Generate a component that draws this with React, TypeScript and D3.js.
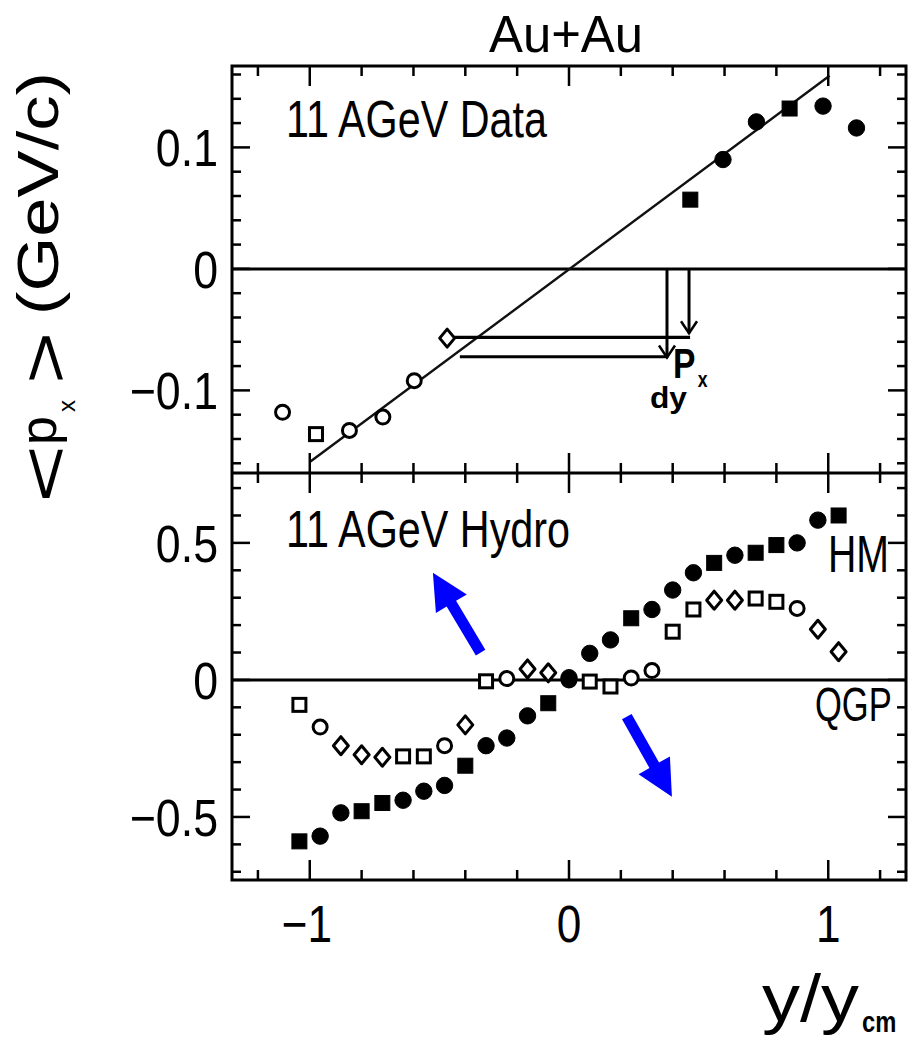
import React from 'react';
import * as d3 from 'd3';

// ---------------- data ----------------
// x-axis ticks (y / y_cm)
const X_TICKS = [-1.2, -1, -0.8, -0.6, -0.4, -0.2, 0, 0.2, 0.4, 0.6, 0.8, 1, 1.2];
const X_MAJOR = [-1, 0, 1];
const X_LABELS = ['\u22121', '0', '1'];

// top panel (11 AGeV Data) y ticks
const TOP_Y_TICKS = [-0.16, -0.14, -0.12, -0.1, -0.08, -0.06, -0.04, -0.02, 0, 0.02, 0.04, 0.06, 0.08, 0.1, 0.12, 0.14, 0.16];
const TOP_Y_MAJOR = [-0.1, 0, 0.1];
const TOP_Y_LABELS = ['\u22120.1', '0', '0.1'];

// bottom panel (11 AGeV Hydro) y ticks
const BOT_Y_TICKS = [-0.7, -0.6, -0.5, -0.4, -0.3, -0.2, -0.1, 0, 0.1, 0.2, 0.3, 0.4, 0.5, 0.6, 0.7];
const BOT_Y_MAJOR = [-0.5, 0, 0.5];
const BOT_Y_LABELS = ['\u22120.5', '0', '0.5'];

// top panel: measured points (filled, forward) and reflected points (open)
const dataFilledX = [0.468, 0.594, 0.723, 0.851, 0.98, 1.109];
const dataFilledY = [0.057, 0.090, 0.121, 0.132, 0.134, 0.116];
const dataFilledShape = ['square', 'circle', 'circle', 'square', 'circle', 'circle'];
const dataOpenX = [-1.105, -0.976, -0.847, -0.718, -0.597, -0.47];
const dataOpenY = [-0.118, -0.136, -0.133, -0.122, -0.092, -0.057];
const dataOpenShape = ['circle', 'square', 'circle', 'circle', 'circle', 'diamond'];

// linear fit line
const fitX = [-1.0, 1.005];
const fitY = [-0.159, 0.159];

// schematic of the slope dPx/dy (top panel, data units)
const slopeVertX = [0.378, 0.463];
const slopeVertBottom = [-0.0729, -0.053];
const slopeHorizY = [-0.0564, -0.0723];
const slopeHorizX0 = [-0.463, -0.421];
const slopeHorizX1 = [0.467, 0.382];

// bottom panel: hydro calculations
const hydroX = [-1.04, -0.96, -0.88, -0.80, -0.72, -0.64, -0.56, -0.48, -0.40, -0.32, -0.24, -0.16, -0.08, 0.0,
  0.08, 0.16, 0.24, 0.32, 0.40, 0.48, 0.56, 0.64, 0.72, 0.80, 0.88, 0.96, 1.04];
const hmY = [-0.589, -0.570, -0.485, -0.479, -0.449, -0.439, -0.406, -0.385, -0.313, -0.240, -0.212, -0.131, -0.085, 0.008,
  0.097, 0.146, 0.225, 0.257, 0.328, 0.391, 0.427, 0.455, 0.464, 0.492, 0.500, 0.583, 0.600];
const hmShape = ['square', 'circle', 'circle', 'square', 'square', 'circle', 'circle', 'circle', 'square', 'circle', 'circle', 'circle', 'square', 'circle',
  'circle', 'circle', 'square', 'circle', 'circle', 'circle', 'square', 'circle', 'square', 'square', 'circle', 'circle', 'square'];
const qgpY = [-0.091, -0.172, -0.240, -0.273, -0.282, -0.279, -0.279, -0.240, -0.164, -0.005, 0.005, 0.040, 0.026, 0.0,
  -0.006, -0.024, 0.007, 0.034, 0.176, 0.257, 0.291, 0.291, 0.297, 0.285, 0.261, 0.185, 0.103];
const qgpShape = ['square', 'circle', 'diamond', 'diamond', 'diamond', 'square', 'square', 'circle', 'diamond', 'square', 'circle', 'diamond', 'diamond', 'circle',
  'square', 'square', 'circle', 'circle', 'square', 'square', 'diamond', 'diamond', 'square', 'square', 'circle', 'diamond', 'diamond'];

// blue arrows in the bottom panel (tail -> tip, data units)
const arrowTailX = [-0.341, 0.223];
const arrowTailY = [0.0996, -0.134];
const arrowTipX = [-0.525, 0.397];
const arrowTipY = [0.391, -0.426];

// ---------------- helpers ----------------
const FONT = '"Liberation Sans", Arial, Helvetica, sans-serif';
const L = 232, R = 906, T1 = 66, MID = 473, B2 = 880;

function Marker({ cx, cy, shape, filled }: { cx: number; cy: number; shape: string; filled: boolean }) {
  const fill = filled ? '#000' : '#fff';
  const sw = filled ? 1 : 3;
  if (shape === 'square') {
    const s = filled ? 15 : 13;
    return <rect x={cx - s / 2} y={cy - s / 2} width={s} height={s} fill={fill} stroke="#000" strokeWidth={sw} />;
  }
  if (shape === 'diamond') {
    const w = filled ? 9 : 7.5, h = filled ? 10 : 9;
    return <path d={`M${cx},${cy - h}L${cx + w},${cy}L${cx},${cy + h}L${cx - w},${cy}Z`} fill={fill} stroke="#000" strokeWidth={sw} strokeLinejoin="round" />;
  }
  return <circle cx={cx} cy={cy} r={filled ? 8.2 : 7} fill={fill} stroke="#000" strokeWidth={sw} />;
}

function arrowPath(x0: number, y0: number, x1: number, y1: number) {
  const dx = x1 - x0, dy = y1 - y0;
  const len = Math.hypot(dx, dy);
  const ux = dx / len, uy = dy / len;
  const px = -uy, py = ux;
  const sw = 5.5, hl = 36, hw = 18;
  const bx = x1 - ux * hl, by = y1 - uy * hl;
  const pts = [
    [x0 + px * sw, y0 + py * sw],
    [bx + px * sw, by + py * sw],
    [bx + px * hw, by + py * hw],
    [x1, y1],
    [bx - px * hw, by - py * hw],
    [bx - px * sw, by - py * sw],
    [x0 - px * sw, y0 - py * sw],
  ];
  return 'M' + pts.map(p => p.join(',')).join('L') + 'Z';
}

function Ticks({ y, yTicks, yMajor, top, bottom }: any) {
  const x = d3.scaleLinear().domain([-1.3, 1.3]).range([L, R]);
  const out: any[] = [];
  X_TICKS.forEach((t, i) => {
    const len = X_MAJOR.includes(t) ? 20 : 10;
    const px = x(t);
    out.push(<line key={'xt' + i} x1={px} x2={px} y1={top} y2={top + len} stroke="#000" strokeWidth={2.5} />);
    out.push(<line key={'xb' + i} x1={px} x2={px} y1={bottom} y2={bottom - len} stroke="#000" strokeWidth={2.5} />);
  });
  yTicks.forEach((t: number, i: number) => {
    const len = yMajor.includes(t) ? 18 : 9;
    const py = y(t);
    out.push(<line key={'yl' + i} x1={L} x2={L + len} y1={py} y2={py} stroke="#000" strokeWidth={2.5} />);
    out.push(<line key={'yr' + i} x1={R} x2={R - len} y1={py} y2={py} stroke="#000" strokeWidth={2.5} />);
  });
  return <g>{out}</g>;
}

function CText({ x, y, text, size = 52, sx = 0.85, anchor = 'start', weight = 'normal' }: any) {
  return (
    <text transform={`translate(${x},${y}) scale(${sx},1)`} textAnchor={anchor} fontSize={size} fontWeight={weight} fill="#000">
      {text}
    </text>
  );
}

export default function App() {
  const x = d3.scaleLinear().domain([-1.3, 1.3]).range([L, R]);
  const yT = d3.scaleLinear().domain([-0.168, 0.167]).range([MID, T1]);
  const yB = d3.scaleLinear().domain([-0.73, 0.755]).range([B2, MID]);

  const fitLine = d3.line<number>().x((_, i) => x(fitX[i])).y((d) => yT(d));

  return (
    <svg width={908} height={1040} style={{ position: 'absolute', left: 0, top: 0, background: '#fff' }} fontFamily={FONT}>
      <rect x={0} y={0} width={908} height={1040} fill="#fff" />

      {/* title */}
      <text x={489} y={52} fontSize={52} textLength={154} lengthAdjust="spacingAndGlyphs">Au+Au</text>

      {/* y-axis title (rotated) */}
      <text transform="translate(68,503) rotate(-90)" fontSize={66} textLength={58} lengthAdjust="spacingAndGlyphs">&lt;</text>
      <text transform="translate(56,445) rotate(-90)" fontSize={52}>
        <tspan>p</tspan>
        <tspan fontSize={24} dx={4} dy={19}>x</tspan>
      </text>
      <text transform="translate(68,384) rotate(-90)" fontSize={66} textLength={52} lengthAdjust="spacingAndGlyphs">&gt;</text>
      <text transform="translate(58,315) rotate(-90)" fontSize={58} textLength={243} lengthAdjust="spacingAndGlyphs">(GeV/c)</text>

      {/* ===== top panel ===== */}
      <line x1={L} x2={R} y1={yT(0)} y2={yT(0)} stroke="#000" strokeWidth={3} />
      <path d={fitLine(fitY) || ''} fill="none" stroke="#111" strokeWidth={2.4} />

      {/* slope schematic */}
      {slopeVertX.map((vx, i) => (
        <g key={'sv' + i}>
          <line x1={x(vx)} x2={x(vx)} y1={yT(0)} y2={yT(slopeVertBottom[i])} stroke="#000" strokeWidth={3} />
          <path d={`M${x(vx) - 8},${yT(slopeVertBottom[i]) - 12}L${x(vx)},${yT(slopeVertBottom[i])}L${x(vx) + 8},${yT(slopeVertBottom[i]) - 12}`} fill="none" stroke="#000" strokeWidth={2.5} />
        </g>
      ))}
      {slopeHorizY.map((hy, i) => (
        <line key={'sh' + i} x1={x(slopeHorizX0[i])} x2={x(slopeHorizX1[i])} y1={yT(hy)} y2={yT(hy)} stroke="#000" strokeWidth={3.2} />
      ))}
      <text transform="translate(673,378) scale(0.8,1)" fontSize={42} fontWeight="bold">
        <tspan>P</tspan>
        <tspan fontSize={22} dx={3} dy={9}>x</tspan>
      </text>
      <text x={650} y={408} fontSize={30} fontWeight="bold" textLength={37} lengthAdjust="spacingAndGlyphs">dy</text>

      {dataOpenX.map((d, i) => (
        <Marker key={'do' + i} cx={x(d)} cy={yT(dataOpenY[i])} shape={dataOpenShape[i]} filled={false} />
      ))}
      {dataFilledX.map((d, i) => (
        <Marker key={'df' + i} cx={x(d)} cy={yT(dataFilledY[i])} shape={dataFilledShape[i]} filled={true} />
      ))}

      <text x={286} y={137} fontSize={52} textLength={261} lengthAdjust="spacingAndGlyphs">11 AGeV Data</text>

      <Ticks y={yT} yTicks={TOP_Y_TICKS} yMajor={TOP_Y_MAJOR} top={T1} bottom={MID} />
      {TOP_Y_MAJOR.map((t, i) => (
        <CText key={'tyl' + i} x={218} y={yT(t) + 19} text={TOP_Y_LABELS[i]} anchor="end" sx={0.86} />
      ))}

      {/* ===== bottom panel ===== */}
      <line x1={L} x2={R} y1={yB(0)} y2={yB(0)} stroke="#000" strokeWidth={3} />

      {hydroX.map((d, i) => (
        <Marker key={'q' + i} cx={x(d)} cy={yB(qgpY[i])} shape={qgpShape[i]} filled={false} />
      ))}
      {hydroX.map((d, i) => (
        <Marker key={'h' + i} cx={x(d)} cy={yB(hmY[i])} shape={hmShape[i]} filled={true} />
      ))}

      {arrowTailX.map((ax, i) => (
        <path key={'ar' + i} d={arrowPath(x(ax), yB(arrowTailY[i]), x(arrowTipX[i]), yB(arrowTipY[i]))} fill="#0000ff" />
      ))}

      <text x={286} y={547} fontSize={52} textLength={284} lengthAdjust="spacingAndGlyphs">11 AGeV Hydro</text>
      <CText x={828} y={572} text="HM" size={52} sx={0.754} />
      <CText x={815} y={721} text="QGP" size={48} sx={0.72} />

      <Ticks y={yB} yTicks={BOT_Y_TICKS} yMajor={BOT_Y_MAJOR} top={MID} bottom={B2} />
      {BOT_Y_MAJOR.map((t, i) => (
        <CText key={'byl' + i} x={218} y={yB(t) + 19} text={BOT_Y_LABELS[i]} anchor="end" sx={0.86} />
      ))}

      {/* frames */}
      <rect x={L} y={T1} width={R - L} height={B2 - T1} fill="none" stroke="#000" strokeWidth={3} />
      <line x1={L} x2={R} y1={MID} y2={MID} stroke="#000" strokeWidth={3} />

      {/* x tick labels */}
      {X_MAJOR.map((t, i) => (
        <CText key={'xl' + i} x={x(t) - (t < 0 ? 3 : 0)} y={942} text={X_LABELS[i]} anchor="middle" sx={0.85} />
      ))}

      {/* x-axis title */}
      <text transform="translate(762,1021) scale(1.15,1)" fontSize={66}>y/y</text>
      <text transform="translate(862,1032) scale(0.82,1)" fontSize={29} fontWeight="bold">cm</text>
    </svg>
  );
}
